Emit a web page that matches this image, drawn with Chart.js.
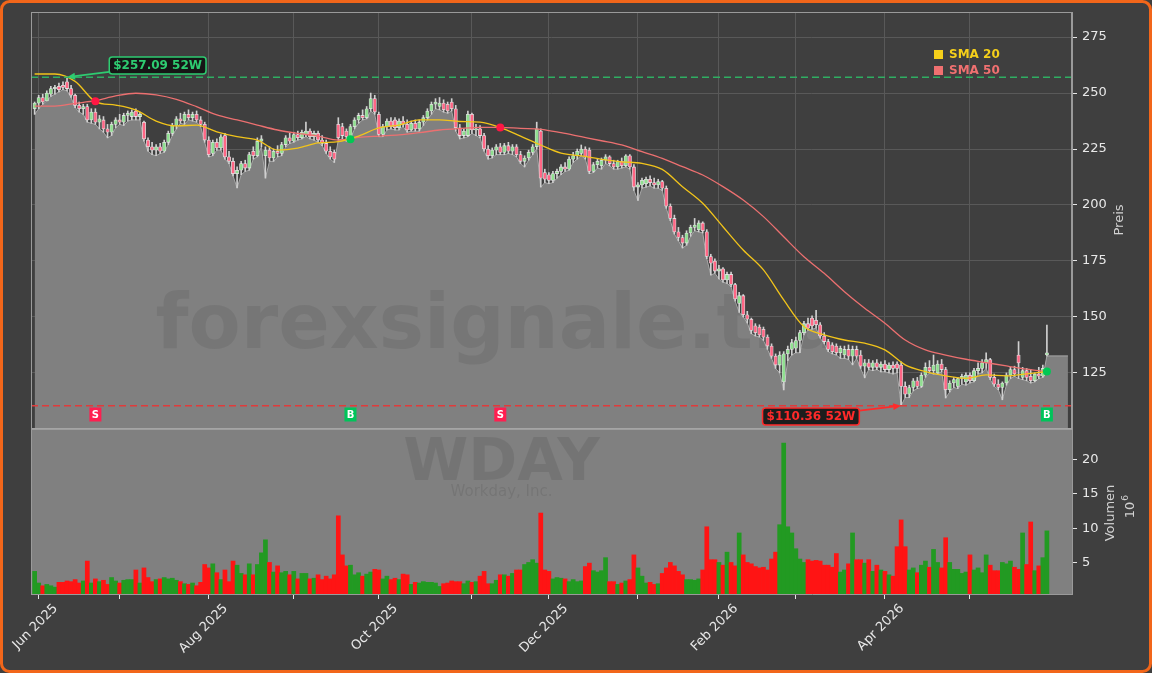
<!DOCTYPE html>
<html lang="de">
<head>
<meta charset="utf-8">
<title>WDAY – Kurs und Volumen</title>
<script src="https://cdn.jsdelivr.net/npm/chart.js"></script>
<style>
    html, body { margin: 0; padding: 0; background: #3f3f3f; }
    #wrap { width: 1152px; height: 673px; }
</style>
</head>
<body>
<div id="wrap"><canvas id="wdayChart" width="1152" height="673"></canvas></div>
<script>
// --- Daten (Handelstage ab 30.05.2025, Index 0) ---
const monthDays = [1, 21, 43, 64, 85, 108, 127, 149, 169, 188, 210, 231];
const monthLabels = ['Jun 2025', '', 'Aug 2025', '', 'Oct 2025', '', 'Dec 2025', '', 'Feb 2026', '', 'Apr 2026', ''];
const priceTicks = [125, 150, 175, 200, 225, 250, 275];
const volumeTicks = [5, 10, 15, 20];

const opens = [
    243, 245.5, 248, 246.5, 249.5, 252, 253, 253.5, 255, 252,
    249, 244.5, 243, 244, 238, 241.5, 237, 238, 234, 232.5,
    236, 238, 237, 240, 239.5, 242, 239.5, 237, 229, 226,
    224.5, 226, 224, 228, 232, 235.5, 238.5, 237.5, 240.5, 239,
    240.5, 238, 236, 229, 223, 228, 225.5, 231, 221.5, 219.5,
    214, 215.5, 218.5, 216.5, 224, 222, 228.5, 222, 224.5, 221,
    224, 223, 227, 230, 228.5, 231.5, 230, 231.5, 233, 230.5,
    232, 229, 227.5, 224, 223.5, 236, 235, 233, 230.5, 235,
    238, 240, 239, 243, 247.5, 240.5, 231.5, 235, 237.5, 238,
    234.5, 237.5, 236, 233.5, 236.5, 234, 237, 239, 242, 245,
    244, 245.5, 245, 246, 243, 234.5, 231, 231, 240.5, 233.5,
    234, 231, 225, 222, 224.5, 226, 223.5, 226.5, 224, 226,
    222.5, 219.5, 221, 223.5, 226, 233, 214.5, 213.5, 211, 214,
    215, 217, 216, 220.5, 222, 223, 225, 224.5, 215, 218,
    217.5, 220, 221.5, 218.5, 217, 219.5, 217.5, 222, 217, 208,
    209, 209.5, 211.5, 210, 209, 210.5, 207.5, 199.5, 194, 188,
    185.5, 183, 187.5, 190, 189, 192, 188, 177, 175, 170.5,
    171.5, 166.5, 169, 164.5, 156, 159.5, 151, 149, 146, 145.5,
    144.5, 141, 137, 132.5, 128.5, 121, 133.5, 135.5, 136, 139.5,
    143, 147, 149.5, 148.5, 146.5, 141.5, 139, 137.5, 137, 134,
    133, 135.5, 132.5, 135.5, 133, 128, 129.5, 127.5, 129.5, 127.5,
    129, 126.5, 128.5, 129, 128.5, 119, 115.5, 118.5, 121.5, 119,
    124, 127.5, 126, 125, 129, 126.5, 117.5, 120.5, 119, 122.5,
    121, 124, 121.5, 126, 127, 129.5, 131, 123, 120, 118.5,
    120.5, 124, 126.5, 133, 123, 126, 123.5, 121.5, 124.5, 123.5, 133
];
const highs = [
    246, 249, 249.5, 251, 253, 253.5, 254.5, 255, 257.09, 253.5,
    249.5, 246, 245, 245, 243, 243, 240, 239.5, 236, 237,
    239, 240.5, 241, 242, 242.5, 243, 241.5, 237.5, 230, 228,
    227, 227.5, 229, 233, 236.5, 239.5, 241, 241.5, 242.5, 241.5,
    242, 239.5, 237, 230.5, 229, 229.5, 231.5, 232, 224, 221,
    217, 219.5, 220, 223.5, 226, 230, 231, 226, 226, 225,
    226.5, 228, 231, 232, 232.5, 233, 233.5, 237, 234, 233,
    233, 231, 229, 226, 224.5, 239, 236.5, 234, 236, 239,
    241, 242.5, 244, 250, 249, 241.5, 236, 238.5, 239, 239,
    238.5, 239.5, 238, 237.5, 238, 238, 240, 243, 246, 247.5,
    248, 247, 246, 247.5, 244.5, 236, 234, 242, 241, 236,
    235.5, 232, 226.5, 225.5, 227, 227.5, 227.5, 228, 227, 227,
    224, 222, 224.5, 227, 237, 234, 216, 214.5, 215, 216,
    218, 219, 221.5, 223.5, 225, 226.8, 226, 225.5, 219, 220.5,
    221, 222.5, 222, 220, 220, 221, 222.5, 222.5, 218, 210,
    212, 212.5, 213, 212, 211.5, 211, 208.5, 200.5, 195.5, 190,
    186.5, 188.5, 191, 194, 193, 192.5, 189, 178, 176, 173,
    172, 170, 170, 165, 161, 160, 152.5, 149.5, 147, 146.5,
    145.5, 142, 138, 133.5, 134.5, 134.5, 137, 140, 141, 144,
    148, 149.5, 150.5, 153, 147.5, 143, 140, 138.5, 138, 137,
    137, 137.5, 137, 137, 135, 131, 131, 130.5, 131, 130,
    130.5, 129.5, 130, 130, 130, 121, 119.5, 122.5, 123, 125,
    129.5, 130.5, 133, 130.5, 131, 127.5, 121.5, 123, 123, 124.5,
    125, 125, 127, 129.5, 131, 134, 131.5, 124.5, 122, 121,
    125, 127.5, 128, 139, 127.5, 127, 126.5, 125, 127.5, 128.5, 146.4
];
const lows = [
    240.5, 243, 245, 246.5, 248.5, 249.5, 250.5, 251.5, 251, 248,
    243.5, 241.5, 240.5, 237, 236.5, 236, 234, 232.5, 230, 231,
    234.5, 236, 235.5, 237.5, 238, 238, 238, 228.5, 224, 222.5,
    222, 223, 223.5, 227, 231, 234, 236.5, 236, 238, 237.5,
    237, 235, 228, 221.5, 222, 224.5, 224.5, 220.5, 218.5, 213,
    207.6, 213.5, 215, 215.5, 220.5, 221.5, 226, 212, 219.5, 219.5,
    221.5, 222, 226, 227.5, 228, 229, 229.5, 230.5, 229.5, 229,
    228, 226.5, 223, 220.5, 219, 229, 229.5, 228.5, 229.5, 234,
    236.5, 238, 238.5, 242, 240.5, 230.5, 230.5, 233.5, 234, 233.5,
    233.5, 235, 232.5, 233, 233, 233, 235.5, 238, 240.5, 243,
    242.5, 241.5, 241, 242, 233, 229.5, 230, 230.5, 232, 231,
    230, 224, 220.5, 221, 222.5, 222.5, 222.5, 223, 222.5, 221.5,
    218.5, 217, 220, 222.5, 225, 208, 210, 209.5, 210, 212,
    213.5, 215, 215.5, 219, 220.5, 222, 220.5, 214, 214.5, 216.5,
    216, 218.5, 217.5, 216, 216, 216.5, 217, 216, 206.5, 202,
    207.5, 208, 208.5, 207.5, 207.5, 206.5, 198.5, 193, 187, 184,
    180.8, 182, 186, 188.5, 188, 187.5, 176, 168.7, 169.5, 167,
    165.5, 165, 163.5, 157, 152, 150, 147.3, 142.5, 141.5, 141,
    139.5, 135.5, 131.5, 127, 125, 117.4, 130.5, 133, 134, 134,
    142, 144, 144.5, 145, 140.5, 138, 134.5, 133.5, 133, 131.5,
    131.5, 131, 128.6, 131.5, 127, 122.8, 126.5, 126, 126.5, 125.5,
    125.5, 125, 124.5, 125, 110.36, 114, 114, 117, 118, 118.5,
    123, 125, 124.5, 124.5, 125.5, 113.8, 116.5, 118.5, 118, 120,
    119.5, 120.5, 121, 124.5, 125, 127, 122, 119, 117.5, 113,
    119.5, 122.5, 123.5, 122.5, 122, 121.5, 120.5, 121, 122.5, 123, 132.6
];
const closes = [
    245.5, 248, 246, 250, 252, 252.5, 251.5, 252.5, 252, 249,
    244.5, 243, 244, 238, 241.5, 237, 238.5, 234, 232.5, 236,
    238, 237, 240, 241, 241.5, 239.5, 240.5, 229.5, 226, 224.5,
    226, 224, 228, 232, 235.5, 238.5, 237.5, 240.5, 239, 240.5,
    238, 236, 229, 222.5, 228, 225.5, 230.5, 221.5, 219.5, 214,
    215.5, 218.5, 216.5, 222.5, 222, 228.5, 229.5, 224.5, 221, 224,
    223, 227, 230, 228.5, 231.5, 230, 232.5, 233, 230.5, 232,
    229, 227.5, 224, 221.5, 220.5, 230, 231, 230.5, 235, 238,
    240, 239, 243, 247.5, 241.5, 231.5, 235, 237.5, 235, 234.5,
    237.5, 236, 233.5, 236.5, 234, 237, 239, 242, 245, 246,
    245.5, 242.5, 242, 243, 234.5, 231, 233, 240.5, 233.5, 234,
    231, 225, 222, 224.5, 226, 223.5, 226.5, 224, 226, 222.5,
    219.5, 221, 223.5, 226, 234, 212, 211.5, 211, 214, 215,
    217, 216, 220.5, 222, 224, 225, 221.5, 215, 218, 219.5,
    220, 221.5, 218.5, 217, 219.5, 217.5, 222, 217, 208, 209,
    211, 211.5, 210, 209, 210.5, 207.5, 199.5, 194, 188, 185.5,
    183, 187.5, 190, 191, 192, 188.5, 177, 174, 170.5, 171.5,
    166.5, 169, 164.5, 158, 159.5, 151, 149, 144, 143, 142,
    141, 137, 132.5, 128.5, 133, 133.5, 135.5, 138.5, 139.5, 143,
    147, 145, 146, 146.5, 141.5, 139, 135.5, 134.5, 134, 136,
    135.5, 132.5, 135.5, 132.5, 128, 129.5, 127.5, 129.5, 127.5, 129,
    126.5, 128.5, 127, 127, 119, 115.5, 118.5, 121.5, 119, 124,
    127.5, 126, 128.5, 129, 126.5, 117.5, 120.5, 122, 122.5, 123.5,
    124, 121.5, 126, 127, 129.5, 131, 123, 120, 118.5, 120.5,
    124, 126.5, 124.5, 129.5, 126, 123, 121.5, 124.5, 123.5, 127, 134
];
// Volumen in Millionen Stück
const volumes = [
    3.7, 2.0, 1.6, 1.8, 1.6, 1.4, 2.1, 2.1, 2.3, 2.2,
    2.5, 2.0, 2.3, 5.2, 2.0, 2.6, 2.2, 2.4, 1.8, 2.8,
    2.3, 2.0, 2.4, 2.5, 2.5, 3.9, 2.0, 4.2, 2.8, 2.2,
    2.5, 2.6, 2.8, 2.6, 2.7, 2.4, 2.2, 1.9, 1.8, 2.0,
    1.6, 2.1, 4.7, 4.2, 4.8, 3.5, 2.5, 3.9, 2.2, 5.2,
    4.6, 3.4, 3.2, 4.8, 3.2, 4.7, 6.4, 8.3, 5.0, 3.6,
    4.5, 3.5, 3.7, 3.2, 3.7, 2.6, 3.4, 3.4, 2.6, 2.7,
    3.2, 2.5, 3.0, 2.6, 3.2, 11.8, 6.1, 4.5, 4.6, 3.2,
    3.5, 3.0, 3.3, 3.6, 4.0, 3.9, 2.6, 3.0, 2.5, 2.7,
    2.5, 3.3, 3.2, 1.8, 2.1, 2.0, 2.2, 2.1, 2.1, 2.0,
    1.5, 1.9, 2.0, 2.3, 2.2, 2.2, 1.9, 2.3, 2.1, 2.2,
    3.0, 3.7, 1.9, 1.9, 2.4, 3.2, 3.2, 3.0, 3.4, 3.9,
    3.9, 4.7, 5.0, 5.4, 4.9, 12.2, 3.9, 3.7, 2.6, 2.8,
    2.7, 2.6, 2.2, 2.5, 2.2, 2.3, 4.4, 4.9, 3.8, 3.6,
    3.8, 5.7, 2.2, 2.2, 1.8, 2.0, 2.3, 2.5, 6.1, 4.2,
    3.0, 2.0, 2.1, 1.8, 1.9, 3.4, 4.2, 5.0, 4.5, 3.7,
    3.2, 2.5, 2.5, 2.4, 2.6, 3.9, 10.2, 5.4, 5.4, 5.0,
    4.6, 6.5, 5.0, 4.5, 9.3, 6.1, 5.0, 4.8, 4.4, 4.2,
    4.3, 3.9, 5.5, 6.5, 10.5, 22.4, 10.2, 9.3, 7.0, 5.5,
    5.0, 5.4, 5.2, 5.3, 5.2, 4.6, 4.6, 4.3, 6.3, 3.6,
    3.9, 4.8, 9.3, 5.4, 5.4, 4.9, 5.4, 3.7, 4.6, 3.9,
    3.7, 3.2, 3.0, 7.3, 11.2, 7.3, 3.9, 4.2, 3.5, 4.6,
    5.2, 4.3, 6.9, 5.0, 4.2, 8.6, 5.0, 4.0, 4.0, 3.4,
    3.6, 6.1, 3.9, 4.2, 3.5, 6.1, 4.6, 3.8, 3.8, 5.0,
    4.8, 5.2, 4.3, 4.0, 9.3, 4.7, 10.9, 3.8, 4.5, 5.7, 9.6
];

const smaDays = [0, 5, 10, 15, 20, 25, 30, 35, 40, 45, 50, 55, 60, 65, 70, 75, 80, 85, 90, 95,
    100, 105, 110, 115, 120, 125, 130, 135, 140, 145, 150, 155, 160, 165, 170, 175, 180, 185, 190, 195,
    200, 205, 210, 215, 220, 225, 230, 235, 240, 245, 250];
const sma20 = [258.5, 258.5, 255.2, 246.2, 244.6, 242.4, 237.5, 235.3, 235.7, 232.7,
    230.5, 229, 224.5, 225.4, 227.7, 228.3, 230.8, 234.4, 235.7, 238,
    238, 237.3, 237, 234.6, 230.8, 226.8, 223.2, 221.9, 220.4, 219.3,
    218.6, 215.9, 208.2, 200.8, 190.3, 179.9, 171, 157.6, 145.7, 142,
    139.7, 138.3, 135.3, 128.6, 125.6, 123.7, 122.6, 124.1, 123.7, 124.6, 125.6];
const sma50 = [244.2, 244.2, 245.4, 246.6, 248.7, 249.9, 249.2, 247.2, 243.9, 240.2,
    238, 235.7, 233.5, 232, 230.8, 229, 230.2, 230.8, 231.3, 232.3,
    233.5, 234.2, 234.7, 234.7, 234.2, 233.8, 232.3, 230.5, 228.7, 226.8,
    223.8, 220.8, 217.1, 213.4, 208.2, 202.2, 194.8, 185.8, 176.9, 169.5,
    161.3, 153.9, 147.2, 139.7, 135.3, 133, 131.1, 129.6, 128.1, 126.7, 125.6];

// 52-Wochen-Hoch/-Tief und Kreuzungssignale
const high52w = 257.09, high52wDay = 8;
const low52w = 110.36, low52wDay = 214;
const signalDays = [15, 78, 115, 250];
const signalTypes = ['S', 'B', 'S', 'B'];
const signalPrices = [246.3, 229.4, 234.6, 125.6];
const fillEndDay = 255.2;

// --- Darstellung ---
Chart.defaults.font.family = "'DejaVu Sans', sans-serif";
Chart.defaults.color = '#e8e8e8';

const FONT = "'DejaVu Sans', sans-serif";
const FILL_DATASET = 5;
const dayIdx = closes.map((_, i) => i);
const isUp = i => closes[i] >= opens[i];

// Preisschild mit Pfeil (52W)
function priceTag(ctx, text, tx, ty, dx, dy, color) {
    ctx.font = 'bold 12px ' + FONT;
    const w = ctx.measureText(text).width + 8, h = 17;
    const cx = tx + dx, cy = ty + dy;
    const sx = dx > 0 ? cx - w / 2 : cx + w / 2;
    const sy = cy + (ty - cy) * ((sx - cx) / (tx - cx));
    const ang = Math.atan2(ty - sy, tx - sx), hl = 8, hw = 3.5;
    const bx = tx - hl * Math.cos(ang), by = ty - hl * Math.sin(ang);
    ctx.strokeStyle = color;
    ctx.lineWidth = 1.8;
    ctx.setLineDash([]);
    ctx.beginPath(); ctx.moveTo(sx, sy); ctx.lineTo(bx, by); ctx.stroke();
    ctx.fillStyle = color;
    ctx.beginPath();
    ctx.moveTo(tx, ty);
    ctx.lineTo(bx + hw * Math.sin(ang), by - hw * Math.cos(ang));
    ctx.lineTo(bx - hw * Math.sin(ang), by + hw * Math.cos(ang));
    ctx.closePath(); ctx.fill();
    ctx.fillStyle = 'rgba(18,18,18,0.9)';
    ctx.beginPath(); ctx.roundRect(cx - w / 2, cy - h / 2, w, h, 3); ctx.fill();
    ctx.lineWidth = 1.5;
    ctx.stroke();
    ctx.fillStyle = color;
    ctx.textAlign = 'center';
    ctx.textBaseline = 'middle';
    ctx.fillText(text, cx, cy + 0.5);
}

const decor = {
    id: 'decor',
    beforeDraw(chart) {
        const { ctx, width, height } = chart;
        ctx.save();
        ctx.fillStyle = '#3f3f3f';
        ctx.fillRect(0, 0, width, height);
        ctx.restore();
    },
    beforeDatasetsDraw(chart) {
        // Hintergrund des Volumenfensters
        const { ctx, chartArea: a, scales: { yv } } = chart;
        ctx.save();
        ctx.fillStyle = '#808080';
        ctx.fillRect(a.left, yv.top, a.right - a.left, yv.bottom - yv.top);
        ctx.restore();
    },
    afterDatasetsDraw(chart) {
        const { ctx, chartArea: a, scales: { x, y, yv } } = chart;
        ctx.save();
        ctx.beginPath();
        ctx.rect(a.left, a.top, a.right - a.left, a.bottom - a.top);
        ctx.clip();

        // Wasserzeichen nur auf der grauen Fläche unter den Tiefs
        const pts = chart.getDatasetMeta(FILL_DATASET).data;
        ctx.save();
        ctx.beginPath();
        ctx.moveTo(pts[0].x, y.bottom);
        pts.forEach(p => ctx.lineTo(p.x, p.y));
        ctx.lineTo(pts[pts.length - 1].x, y.bottom);
        ctx.closePath();
        ctx.clip();
        ctx.textAlign = 'center';
        ctx.textBaseline = 'alphabetic';
        ctx.fillStyle = 'rgba(0,0,0,0.08)';
        ctx.font = 'bold 76px ' + FONT;
        ctx.fillText('forexsignale.trade', (a.left + a.right) / 2, y.top + (y.bottom - y.top) * 0.807);
        ctx.restore();

        ctx.textAlign = 'center';
        ctx.textBaseline = 'alphabetic';
        ctx.fillStyle = 'rgba(0,0,0,0.09)';
        const wx = a.left + (a.right - a.left) * 0.452;
        ctx.font = 'bold 59px ' + FONT;
        ctx.fillText('WDAY', wx, yv.top + (yv.bottom - yv.top) * 0.313);
        ctx.font = '15px ' + FONT;
        ctx.fillText('Workday, Inc.', wx, yv.top + (yv.bottom - yv.top) * 0.41);

        // 52W-Linien
        ctx.lineWidth = 1.5;
        ctx.setLineDash([7, 4]);
        [[high52w, '#2fae62'], [low52w, '#e03b3b']].forEach(([v, col]) => {
            const py = y.getPixelForValue(v);
            ctx.strokeStyle = col;
            ctx.beginPath(); ctx.moveTo(a.left, py); ctx.lineTo(a.right, py); ctx.stroke();
        });

        priceTag(ctx, '$' + high52w.toFixed(2) + ' 52W', x.getPixelForValue(high52wDay), y.getPixelForValue(high52w), 90.6, -11.6, '#2ecc71');
        priceTag(ctx, '$' + low52w.toFixed(2) + ' 52W', x.getPixelForValue(low52wDay), y.getPixelForValue(low52w), -90.2, 10.7, '#ff2a2a');

        // Kauf-/Verkaufsmarken
        ctx.font = 'bold 10px ' + FONT;
        ctx.textAlign = 'center';
        ctx.textBaseline = 'middle';
        signalDays.forEach((d, k) => {
            const px = x.getPixelForValue(d), py = y.bottom - 13.5;
            ctx.fillStyle = signalTypes[k] === 'B' ? '#00c45a' : '#ff1f50';
            ctx.fillRect(px - 6, py - 7, 12, 14);
            ctx.fillStyle = '#ffffff';
            ctx.fillText(signalTypes[k], px, py + 0.5);
        });

        // Legende
        const lx = a.right - 138, ly = a.top + 38;
        [['SMA 20', '#f5cf1a'], ['SMA 50', '#f07070']].forEach(([t, col], k) => {
            ctx.fillStyle = col;
            ctx.fillRect(lx, ly + k * 16, 9, 9);
            ctx.font = 'bold 12px ' + FONT;
            ctx.textAlign = 'left';
            ctx.textBaseline = 'middle';
            ctx.fillText(t, lx + 15, ly + 4.5 + k * 16);
        });
        ctx.restore();
    },
    afterDraw(chart) {
        const { ctx, chartArea: a, scales: { y, yv }, width, height } = chart;
        ctx.save();
        // Rahmen der beiden Fenster
        ctx.strokeStyle = '#9a9a9a';
        ctx.lineWidth = 1;
        ctx.strokeRect(a.left + 0.5, y.top + 0.5, a.right - a.left - 1, y.bottom - y.top);
        ctx.strokeStyle = '#a8a8a8';
        ctx.lineWidth = 1.5;
        ctx.beginPath(); ctx.moveTo(a.left, y.bottom + 1); ctx.lineTo(a.right, y.bottom + 1); ctx.stroke();
        ctx.lineWidth = 1;
        ctx.strokeStyle = '#9a9a9a';
        ctx.beginPath(); ctx.moveTo(a.left + 0.5, yv.top); ctx.lineTo(a.left + 0.5, yv.bottom); ctx.stroke();

        // Achsentitel
        ctx.fillStyle = '#d2d2d2';
        ctx.textAlign = 'center';
        ctx.textBaseline = 'middle';
        ctx.font = '13px ' + FONT;
        const title = (t, tx, ty) => {
            ctx.save(); ctx.translate(tx, ty); ctx.rotate(-Math.PI / 2); ctx.fillText(t, 0, 0); ctx.restore();
        };
        title('Preis', a.right + 48, (y.top + y.bottom) / 2);
        title('Volumen', a.right + 39, (yv.top + yv.bottom) / 2 + 2);
        ctx.save();
        ctx.translate(a.right + 59, (yv.top + yv.bottom) / 2 - 4);
        ctx.rotate(-Math.PI / 2);
        ctx.fillText('10', -3, 0);
        ctx.font = '9px ' + FONT;
        ctx.fillText('6', 9, -5);
        ctx.restore();

        // orangefarbener Außenrahmen
        ctx.strokeStyle = '#f2661a';
        ctx.lineWidth = 3;
        ctx.beginPath(); ctx.roundRect(1.5, 1.5, width - 3, height - 3, 8); ctx.stroke();
        ctx.restore();
    }
};

const ctx = document.getElementById('wdayChart').getContext('2d');
new Chart(ctx, {
    type: 'line',
    data: {
        datasets: [
            {
                label: 'Kreuzungen',
                data: signalDays.map((d, k) => ({ x: d, y: signalPrices[k] })),
                showLine: false,
                pointRadius: 4,
                pointBorderWidth: 0,
                pointBackgroundColor: signalTypes.map(t => t === 'B' ? '#00c853' : '#ff1744'),
                yAxisID: 'y',
                order: 0
            },
            {
                label: 'SMA 20',
                data: smaDays.map((d, k) => ({ x: d, y: sma20[k] })),
                borderColor: '#f2c41a',
                borderWidth: 1.3,
                pointRadius: 0,
                cubicInterpolationMode: 'monotone',
                yAxisID: 'y',
                order: 1
            },
            {
                label: 'SMA 50',
                data: smaDays.map((d, k) => ({ x: d, y: sma50[k] })),
                borderColor: '#ec7070',
                borderWidth: 1.3,
                pointRadius: 0,
                cubicInterpolationMode: 'monotone',
                yAxisID: 'y',
                order: 2
            },
            {
                type: 'bar',
                label: 'Kerzen',
                data: dayIdx.map(i => ({ x: i, y: [opens[i], closes[i]] })),
                backgroundColor: dayIdx.map(i => isUp(i) ? '#8fe08f' : '#ff6685'),
                borderColor: 'rgba(235,235,235,0.85)',
                borderWidth: 0.8,
                borderSkipped: false,
                barThickness: 3.4,
                grouped: false,
                yAxisID: 'y',
                order: 3
            },
            {
                type: 'bar',
                label: 'Dochte',
                data: dayIdx.map(i => ({ x: i, y: [lows[i], highs[i]] })),
                backgroundColor: '#d0d0d0',
                barThickness: 1,
                grouped: false,
                yAxisID: 'y',
                order: 4
            },
            {
                label: 'Tief',
                data: [...dayIdx.map(i => ({ x: i, y: lows[i] })), { x: fillEndDay, y: lows[lows.length - 1] }],
                borderColor: '#a8a8a8',
                borderWidth: 1,
                backgroundColor: '#808080',
                fill: 'start',
                pointRadius: 0,
                tension: 0,
                yAxisID: 'y',
                order: 5
            },
            {
                type: 'bar',
                label: 'Volumen',
                data: dayIdx.map(i => ({ x: i, y: volumes[i] })),
                backgroundColor: dayIdx.map(i => isUp(i) ? '#229a22' : '#ff1414'),
                barPercentage: 1,
                categoryPercentage: 1,
                grouped: false,
                yAxisID: 'yv',
                order: 6
            }
        ]
    },
    options: {
        responsive: false,
        animation: false,
        devicePixelRatio: 1,
        events: [],
        layout: { padding: { left: 31, top: 12, right: 0, bottom: 0 } },
        plugins: { legend: { display: false }, tooltip: { enabled: false } },
        scales: {
            x: {
                type: 'linear',
                min: -0.9,
                max: 256.2,
                offset: false,
                afterBuildTicks: s => { s.ticks = monthDays.map(v => ({ value: v })); },
                afterFit: s => { s.height = 79; s.paddingLeft = 0; s.paddingRight = 0; },
                grid: { color: '#595959', offset: false, tickLength: 5, tickColor: '#e6e6e6' },
                border: { display: true, color: '#9a9a9a' },
                ticks: {
                    autoSkip: false,
                    minRotation: 45,
                    maxRotation: 45,
                    padding: 2,
                    labelOffset: 17,
                    color: '#e8e8e8',
                    font: { size: 13 },
                    callback: (v, i) => monthLabels[i]
                }
            },
            y: {
                position: 'right',
                stack: 'fenster',
                stackWeight: 416,
                min: 100.4,
                max: 286.2,
                beginAtZero: false,
                afterBuildTicks: s => { s.ticks = priceTicks.map(v => ({ value: v })); },
                afterFit: s => { s.width = 80; s.paddingTop = 0; s.paddingBottom = 0; },
                grid: { color: '#595959', tickLength: 5, tickColor: '#e6e6e6' },
                border: { display: true, color: '#9a9a9a' },
                ticks: { padding: 5, color: '#e8e8e8', font: { size: 13 }, callback: v => String(v) }
            },
            yv: {
                position: 'right',
                stack: 'fenster',
                stackWeight: 166,
                min: 0.4,
                max: 24.6,
                beginAtZero: false,
                afterBuildTicks: s => { s.ticks = volumeTicks.map(v => ({ value: v })); },
                afterFit: s => { s.width = 80; s.paddingTop = 0; s.paddingBottom = 0; },
                grid: { drawOnChartArea: false, tickLength: 5, tickColor: '#e6e6e6' },
                border: { display: true, color: '#9a9a9a' },
                ticks: { padding: 5, color: '#e8e8e8', font: { size: 13 }, callback: v => String(v) }
            }
        }
    },
    plugins: [decor]
});
</script>
</body>
</html>
